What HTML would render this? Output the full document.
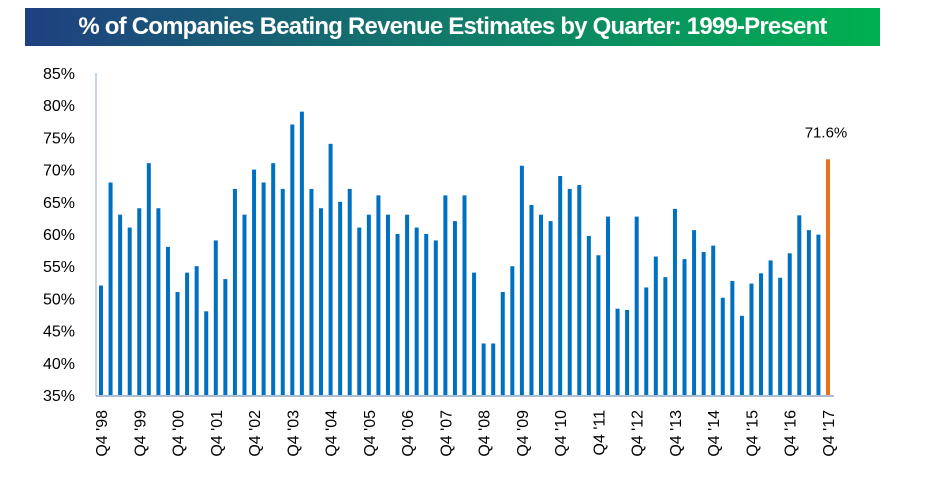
<!DOCTYPE html>
<html><head><meta charset="utf-8"><style>
html,body{margin:0;padding:0;background:#fff;}
body{width:928px;height:501px;overflow:hidden;position:relative;font-family:"Liberation Sans",sans-serif;}
#banner{position:absolute;left:25px;top:8px;width:855px;height:38px;background:linear-gradient(90deg,#1f4080,#117a6a 50%,#00b04f);color:#fff;font-weight:bold;font-size:24px;line-height:38px;text-align:center;letter-spacing:-0.8px;}
</style></head><body>
<div id="banner">% of Companies Beating Revenue Estimates by Quarter: 1999-Present</div>
<svg id="chart" width="928" height="501" style="position:absolute;left:0;top:0"></svg>
<script>
const values=[52,68,63,61,64,71,64,58,51,54,55,48,59,53,67,63,70,68,71,67,77,79,67,64,74,65,67,61,63,66,63,60,63,61,60,59,66,62,66,54,43,43,51,55,70.6,64.5,63,62,69,67,67.6,59.7,56.7,62.7,48.4,48.2,62.7,51.7,56.5,53.3,63.9,56.1,60.6,57.2,58.2,50.1,52.7,47.3,52.3,53.9,55.9,53.2,57,62.9,60.6,59.9,71.6];
const yTicks=[35,40,45,50,55,60,65,70,75,80,85];
const xLabels=["Q4 '98","Q4 '99","Q4 '00","Q4 '01","Q4 '02","Q4 '03","Q4 '04","Q4 '05","Q4 '06","Q4 '07","Q4 '08","Q4 '09","Q4 '10","Q4 '11","Q4 '12","Q4 '13","Q4 '14","Q4 '15","Q4 '16","Q4 '17"];
const lastLabel="71.6%";
const NS="http://www.w3.org/2000/svg";
const svg=document.getElementById('chart');
const y0=395,y1=73,x0=101,x1=828;
const yS=v=>y0-(v-35)/(85-35)*(y0-y1);
const xS=i=>x0+i*(x1-x0)/(values.length-1);
function mk(t,a){const e=document.createElementNS(NS,t);for(const k in a)e.setAttribute(k,a[k]);svg.appendChild(e);return e;}
yTicks.forEach(v=>{const t=mk('text',{x:75,y:yS(v)+6,'text-anchor':'end','font-size':16,fill:'#000'});t.textContent=v+'%';

});
let ax=mk('line',{x1:96,y1:73,x2:96,y2:396,stroke:'#8fa8c8','stroke-width':1});


let bx=mk('line',{x1:96,y1:396,x2:834,y2:396,stroke:'#8fa8c8','stroke-width':1.5});


values.forEach((v,i)=>{const last=i===values.length-1;const r=mk('rect',{x:xS(i)-2,y:yS(v),width:4,height:y0-yS(v),fill:last?'#e8701a':'#0070c0'});

});
const lt=mk('text',{x:xS(values.length-1)-2,y:yS(values[values.length-1])-22,'text-anchor':'middle','font-size':15,fill:'#000'});lt.textContent=lastLabel;


xLabels.forEach((l,k)=>{const x=xS(k*4)+6;const t=mk('text',{x:0,y:0,transform:`translate(${x},410) rotate(-90)`,'text-anchor':'end','font-size':16,fill:'#000'});t.textContent=l;

});
</script>
</body></html>
